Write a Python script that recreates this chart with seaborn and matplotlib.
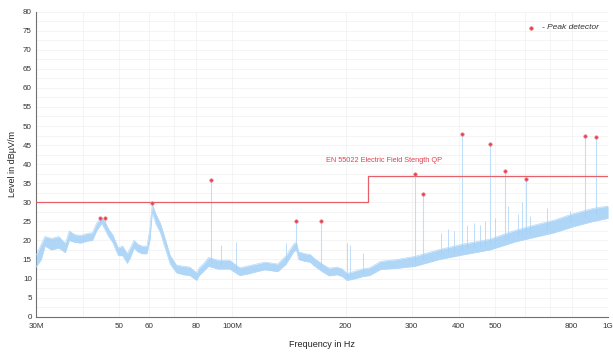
import numpy as np
import matplotlib
matplotlib.use("Agg")
import matplotlib.pyplot as plt
import matplotlib.ticker as mticker
import seaborn as sns

# measured trace, MHz / dBuV/m (band low, band high, mid level)
trace_freq = [30, 31, 31.7, 33, 34.5, 35.9, 36.8, 38, 39.5, 41, 42.4, 43.5, 44.9, 46, 46.8, 48,
              49.7, 51, 52.5, 53.5, 54.7, 56, 57.5, 59.2, 60.3, 61.2, 62.5, 64.3, 66.2, 68.3,
              71, 74, 77, 80.3, 81.6, 84, 86.4, 91.5, 98.3, 104.6, 110, 116, 122, 132, 139,
              145.5, 148, 150, 156, 161, 164.6, 174, 181, 190, 196, 202, 213, 222, 232, 248,
              275, 306, 356, 410, 484, 514, 565, 636, 718, 808, 913, 1000]
trace_low = [13, 15, 18.5, 17.5, 18, 16.8, 20, 19.5, 19.3, 19.8, 20, 22.5, 24.5, 22.5, 21, 19.5,
             16, 16, 14, 15.5, 18, 17, 16.5, 16.5, 20, 27.5, 24.5, 22, 18, 13.8,
             11.5, 11, 10.8, 9.5, 10.8, 12, 13.2, 12.5, 12.5, 10.8, 11.2, 11.8, 12.3, 11.8, 13.8,
             17, 17.5, 15, 14.5, 14.3, 13.4, 11.7, 10.7, 11, 10.5, 9.5, 10, 10.5, 10.8, 12.4,
             12.7, 13.2, 15, 16.2, 17.5, 18.3, 19.6, 20.8, 22, 23.6, 25, 25.8]
trace_high = [16, 19, 21, 20.5, 21, 19.2, 22.5, 21.5, 21.3, 21.8, 22, 24.5, 26, 24.5, 23, 21.5,
              18, 18.5, 16.5, 18, 20, 19, 18.5, 18.5, 23, 29.5, 27, 24.5, 20.5, 16,
              13.5, 13.2, 13, 11.5, 12.8, 14, 15.5, 14.8, 14.8, 12.8, 13.3, 13.8, 14.3, 13.8, 16,
              19, 19.5, 17, 16.5, 16.3, 15.4, 13.7, 12.7, 13, 12.5, 11.3, 12, 12.5, 12.8, 14.5,
              15, 15.8, 17.6, 19, 20.3, 21.2, 22.6, 24, 25.3, 27, 28.4, 29]
trace_level = [14.5, 17, 20, 19, 19.5, 18, 21.5, 20.5, 20.3, 20.8, 21, 23.5, 25.3, 23.5, 22, 20.5,
               17, 17, 15, 17, 19, 18, 17.5, 17.5, 22, 29, 26, 23.5, 19.3, 15,
               12.5, 12, 12, 10.5, 11.8, 13, 14.4, 13.6, 13.6, 11.8, 12.3, 12.8, 13.3, 12.8, 14.9,
               18, 18.5, 16, 15.5, 15.3, 14.4, 12.7, 11.7, 12, 11.5, 10.3, 10.9, 11.5, 11.8, 13.4,
               13.8, 14.4, 16.2, 17.5, 18.8, 19.7, 21, 22.3, 23.6, 25.2, 26.7, 27.6]

# peak detector results
peak_freq = [44.4, 45.8, 61.2, 87.6, 148, 172, 306, 321, 408, 485, 533, 605, 867, 928]
peak_level = [25.8, 26.0, 29.7, 35.8, 25.1, 25.1, 37.5, 32.1, 47.8, 45.2, 38.2, 36.1, 47.4, 47.0]

# smaller spikes of the trace without a marker
spike_freq = [93.5, 102, 139, 202, 205, 222, 360, 375, 390, 420, 440, 455, 470, 500,
              541, 575, 589, 620, 686, 793]
spike_level = [18.8, 19.7, 19.3, 19.3, 18.8, 16.7, 22, 23, 22.5, 24, 24.5, 24, 25, 26,
               28.9, 27, 30.2, 26.5, 28.5, 27.6]

limit_freq = [30, 230, 230, 1000]
limit_level = [30, 30, 37, 37]

tick_freq = [30, 50, 60, 80, 100, 200, 300, 400, 500, 800, 1000]
tick_labels = ["30M", "50", "60", "80", "100M", "200", "300", "400", "500", "800", "1G"]
minor_freq = [40, 70, 600, 700]

sns.set_theme(style="white")
plt.rcParams['font.family'] = ['Liberation Sans', 'DejaVu Sans']

trace_col = '#a2cff6'
red = '#e0434f'

fig, ax = plt.subplots(figsize=(6.13, 3.53), dpi=100)
fig.subplots_adjust(left=0.0587, right=0.992, bottom=0.103, top=0.967)

ax.set_xscale('log')

# spikes and peak stems, drawn from the trace up
logf = np.log10(trace_freq)
spike_base = np.interp(np.log10(spike_freq), logf, trace_level)
ax.vlines(spike_freq, spike_base, spike_level, color=trace_col, lw=0.6, alpha=0.8, zorder=2)
peak_base = np.interp(np.log10(peak_freq), logf, trace_level)
ax.vlines(peak_freq, peak_base, peak_level, color='#bfdff8', lw=0.8, zorder=2)

ax.fill_between(trace_freq, trace_low, trace_high, color=trace_col, alpha=0.85, lw=0, zorder=3)
sns.lineplot(x=trace_freq, y=trace_low, ax=ax, color='#b3d8f8', lw=0.5, zorder=4)
sns.lineplot(x=trace_freq, y=trace_high, ax=ax, color='#b3d8f8', lw=0.5, zorder=4)

ax.plot(limit_freq, limit_level, color='#e6606a', lw=0.9, zorder=5)
sns.scatterplot(x=peak_freq, y=peak_level, ax=ax, color=red, s=6, marker='o',
                edgecolor='#f07c86', linewidth=0.5, zorder=6)

ax.text(177, 40.9, "EN 55022 Electric Field Stength QP", color=red, fontsize=5.3,
        va='center', ha='left')

# legend entry
ax.plot([0.866], [0.947], transform=ax.transAxes, marker='o', ms=2.6, color=red,
        mec='#f07c86', mew=0.5, ls='none', clip_on=False)
ax.text(0.884, 0.947, "- Peak detector", transform=ax.transAxes, fontsize=6,
        style='italic', color='#333333', va='center', ha='left')

ax.set_xlim(30, 1000)
ax.set_ylim(0, 80)
ax.xaxis.set_major_locator(mticker.FixedLocator(tick_freq))
ax.xaxis.set_major_formatter(mticker.FixedFormatter(tick_labels))
ax.xaxis.set_minor_locator(mticker.FixedLocator(minor_freq))
ax.xaxis.set_minor_formatter(mticker.NullFormatter())
ax.yaxis.set_major_locator(mticker.MultipleLocator(5))
ax.yaxis.set_minor_locator(mticker.MultipleLocator(2.5))

ax.grid(True, which='both', color='#f0f0f0', lw=0.5, zorder=0)
ax.set_axisbelow(True)

for side in ['top', 'right']:
    ax.spines[side].set_visible(False)
for side in ['left', 'bottom']:
    ax.spines[side].set_color('#707070')
    ax.spines[side].set_linewidth(0.8)

ax.tick_params(which='both', direction='inout', length=3, width=0.6, color='#707070',
               labelsize=5.8, labelcolor='#333333', pad=1.5)
ax.tick_params(axis='x', pad=3)

ax.set_xlabel("Frequency in Hz", fontsize=6.5, color='#222222', labelpad=7)
ax.set_ylabel("Level in dBµV/m", fontsize=6.5, color='#222222', labelpad=4)

plt.savefig('out.png', dpi=100)
